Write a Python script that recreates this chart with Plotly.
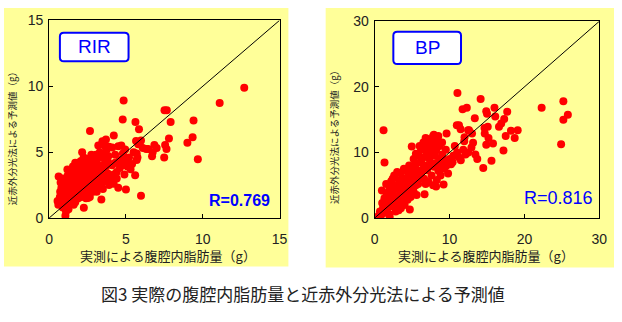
import plotly.graph_objects as go

# ---------------- data ----------------
rir_x = [0.55, 0.62, 0.72, 0.89, 0.89, 0.70, 0.80, 0.95, 0.60, 0.85, 0.75, 1.00, 0.90,
         1.06, 1.10, 1.19, 1.26, 1.20, 1.10, 1.30, 1.15, 1.40, 1.35, 1.45, 1.25, 1.50, 1.40, 1.20, 1.48, 1.05,
         1.55, 1.60, 1.65, 1.70, 1.75, 1.80, 1.85, 1.90, 1.95, 1.60, 1.70, 1.80, 1.90, 1.55, 1.65, 1.75, 1.85, 2.00, 1.95, 1.60, 1.70,
         2.05, 2.10, 2.15, 2.10, 2.20, 2.25, 2.30, 2.26, 2.35, 2.40, 2.45, 2.53, 2.20, 2.30, 2.40, 2.10, 2.35, 2.45, 2.05, 2.50, 2.15, 2.25, 2.40,
         2.55, 2.60, 2.66, 2.65, 2.70, 2.75, 2.80, 2.85, 2.90, 2.95, 2.60, 2.70, 2.80, 2.90, 3.00, 2.55, 2.75, 2.95, 2.65,
         3.05, 3.10, 3.15, 3.20, 3.25, 3.30, 3.35, 3.40, 3.45, 3.47, 3.50, 3.10, 3.20, 3.30, 3.40, 3.05, 3.45, 3.50,
         3.55, 3.60, 3.70, 3.65, 3.70, 3.75, 3.80, 3.85, 3.90, 3.95, 4.00, 3.60, 3.80, 3.90, 3.55,
         4.11, 4.21, 4.10, 4.20, 4.30, 4.40, 4.50, 4.50, 4.60, 4.70, 4.75, 4.85, 4.90, 4.95, 4.30, 4.40, 4.60, 4.80, 5.00, 4.20,
         5.00, 4.79, 4.85, 5.10, 5.20, 5.30, 5.40,
         5.62, 5.66, 5.60, 5.70, 5.75, 5.70, 5.85, 5.98, 6.10, 6.32, 5.98, 5.50, 5.80, 5.89,
         6.45, 6.70, 6.74, 6.85, 7.00, 7.55, 7.64, 7.49, 7.80, 7.51, 7.66, 7.91, 9.00, 9.34, 9.40, 9.68, 11.10, 12.70]
rir_y = [1.30, 3.15, 2.00, 2.64, 0.79, 1.60, 2.30, 1.90, 1.00, 3.00, 2.70, 1.20, 1.50,
         0.17, 0.50, 3.68, 0.67, 1.00, 2.20, 2.60, 2.90, 3.10, 1.80, 2.30, 1.50, 3.40, 1.30, 3.20, 2.00, 2.60,
         2.70, 3.00, 1.60, 3.60, 2.40, 3.30, 2.00, 3.80, 2.90, 2.20, 1.20, 4.00, 1.50, 3.90, 2.60, 3.10, 3.50, 2.50, 1.90, 1.00, 4.20,
         3.20, 2.80, 4.99, 3.90, 2.20, 3.50, 1.80, 0.77, 4.10, 2.90, 3.30, 1.51, 4.40, 2.60, 1.50, 1.60, 3.70, 2.40, 4.30, 3.90, 2.00, 4.60, 2.00,
         3.00, 2.30, 6.60, 3.60, 4.20, 2.80, 3.30, 2.00, 4.50, 3.80, 1.90, 2.50, 3.90, 2.60, 3.10, 4.50, 4.80, 2.20, 1.60,
         3.60, 4.20, 2.80, 5.50, 3.30, 2.40, 4.60, 1.40, 3.00, 5.83, 4.00, 2.00, 3.80, 5.00, 2.60, 4.80, 3.50, 2.20,
         3.20, 4.50, 5.95, 2.80, 3.90, 5.20, 3.40, 4.70, 2.50, 4.10, 3.00, 5.50, 4.40, 5.40, 4.90,
         5.35, 6.27, 4.00, 2.60, 4.80, 3.50, 5.45, 2.30, 4.40, 5.50, 4.00, 4.64, 3.30, 5.20, 4.20, 3.00, 3.80, 4.90, 4.30, 3.30,
         2.17, 7.47, 8.92, 3.90, 4.60, 3.70, 4.10,
         7.28, 5.84, 3.25, 4.40, 4.60, 4.90, 6.73, 5.88, 5.31, 5.24, 1.69, 5.00, 5.60, 5.60,
         5.23, 4.69, 5.00, 5.55, 5.31, 5.55, 5.24, 4.59, 6.03, 8.17, 8.17, 7.28, 5.72, 6.13, 7.40, 4.45, 8.72, 9.88]

bp_x = [0.5, 0.7, 0.9, 1.0, 1.1, 1.2, 1.3, 1.4, 1.5, 1.6, 1.7, 1.8, 1.9, 2.0, 1.18, 1.31, 1.53, 0.96, 2.0, 1.8, 1.2,
        2.1, 2.2, 2.3, 2.4, 2.5, 2.6, 2.7, 2.8, 2.9, 3.0, 3.1, 3.2, 3.3, 3.4, 3.5, 3.6, 3.7, 3.8, 3.9, 4.0,
        2.2, 2.8, 3.0, 3.3, 3.6, 3.9, 2.4, 2.6, 3.5, 3.8, 4.0,
        4.1, 4.2, 4.3, 4.4, 4.5, 4.6, 4.7, 4.8, 4.9, 5.0, 5.1, 5.2, 5.3, 5.4, 5.5, 5.6, 5.7, 5.8, 5.9, 6.0,
        4.95, 4.69, 4.4, 4.8, 5.2, 5.6, 4.3, 5.0, 5.5, 5.8, 4.6, 5.3,
        6.1, 6.2, 6.3, 6.4, 6.5, 6.6, 6.66, 6.7, 6.8, 6.9, 7.0, 7.1, 7.2, 7.3, 7.4, 7.5, 7.6, 7.7, 7.8, 7.9, 8.0,
        6.3, 6.8, 7.0, 7.2, 7.5, 6.0, 7.9, 6.5, 7.8, 8.0,
        8.1, 8.2, 8.3, 8.4, 8.5, 8.6, 8.7, 8.8, 8.9, 9.0, 9.2, 9.3, 9.4, 9.6, 9.5, 9.8, 10.0, 8.5, 9.0, 8.2, 9.6,
        10.2, 10.5, 10.7, 11.0, 11.2, 10.97, 11.05, 11.26, 11.48, 11.74, 12.30, 11.96, 11.83, 12.13, 12.48,
        13.14, 12.92, 13.45, 13.37, 14.15, 12.5, 13.7, 10.4, 11.5, 12.0, 12.6, 13.0,
        14.9, 15.0, 14.67, 15.2, 14.7, 15.1, 14.9, 15.8, 14.5, 15.6, 16.0, 16.1, 16.6, 16.9, 17.3,
        17.7, 17.5, 18.2, 19.1, 18.7, 17.2, 22.3, 25.2, 25.8, 25.2, 24.9]
bp_y = [0.3, 1.0, 0.5, 2.3, 1.5, 0.8, 3.0, 2.0, 1.0, 3.8, 2.6, 1.6, 0.6, 4.5, 13.4, 8.47, 5.18, 4.2, 0.2, 3.3, 1.9,
        2.8, 5.6, 3.6, 1.8, 4.2, 6.5, 2.5, 5.0, 3.2, 7.0, 4.6, 1.2, 5.8, 3.9, 6.8, 2.3, 5.2, 4.3, 7.5, 6.0,
        3.5, 1.0, 2.0, 3.0, 4.0, 5.0, 6.0, 4.8, 1.5, 3.0, 2.0,
        4.8, 7.3, 3.5, 6.2, 5.3, 8.0, 4.0, 6.8, 5.6, 7.5, 4.4, 9.0, 6.2, 7.0, 5.0, 8.3, 6.5, 7.2, 9.5, 6.0,
        10.9, 1.31, 2.8, 3.2, 4.0, 3.5, 5.8, 6.3, 9.8, 5.2, 7.0, 8.0,
        8.5, 10.5, 7.0, 9.2, 11.5, 6.0, 3.63, 8.0, 12.2, 9.8, 7.3, 10.8, 5.5, 9.0, 11.8, 8.2, 6.5, 10.0, 12.5, 7.8, 9.5,
        9.0, 5.2, 11.0, 12.0, 10.5, 11.0, 12.7, 7.5, 5.0, 11.2,
        8.3, 10.3, 5.8, 12.0, 7.2, 9.0, 11.0, 6.5, 8.0, 9.7, 5.1, 7.5, 8.8, 12.9, 10.4, 6.8, 9.0, 12.5, 11.5, 4.8, 8.0,
        8.2, 9.5, 11.0, 10.0, 9.3, 14.16, 19.06, 14.13, 13.55, 16.6, 16.8, 11.71, 10.4, 9.68, 13.4,
        11.47, 10.74, 9.68, 15.2, 18.14, 10.0, 9.0, 8.5, 8.8, 12.3, 13.4, 12.9,
        16.3, 15.9, 13.74, 12.19, 12.9, 13.9, 11.16, 11.35, 7.63, 8.74, 16.8, 15.5, 13.9, 14.4, 15.1,
        16.2, 12.5, 13.3, 13.4, 12.2, 10.3, 16.8, 17.8, 15.75, 15.0, 11.26]

rir_range = [0, 15]
bp_range = [0, 30]
rir_ticks = [0, 5, 10, 15]
bp_ticks = [0, 10, 20, 30]
panel_labels = ["RIR", "BP"]
r_labels = ["R=0.769", "R=0.816"]
x_title = "実測による腹腔内脂肪量（g）"
y_title = "近赤外分光法による予測値（g）"
caption = "図3 実際の腹腔内脂肪量と近赤外分光法による予測値"

# ---------------- figure ----------------
W, H = 622, 322


def px(x):
    return x / W


def py(y):
    return 1 - y / H


def rounded(x0, y0, x1, y1, r):
    pts = [
        ("M", x0 + r, y0), ("L", x1 - r, y0), ("Q", x1, y0, x1, y0 + r),
        ("L", x1, y1 - r), ("Q", x1, y1, x1 - r, y1), ("L", x0 + r, y1),
        ("Q", x0, y1, x0, y1 - r), ("L", x0, y0 + r), ("Q", x0, y0, x0 + r, y0),
    ]
    s = ""
    for p in pts:
        if p[0] == "Q":
            s += f"Q{px(p[1]):.5f},{py(p[2]):.5f} {px(p[3]):.5f},{py(p[4]):.5f} "
        else:
            s += f"{p[0]}{px(p[1]):.5f},{py(p[2]):.5f} "
    return s + "Z"


fig = go.Figure()
red = "#FF0000"
fig.add_trace(go.Scatter(x=rir_x, y=rir_y, mode="markers", xaxis="x", yaxis="y",
                         marker=dict(color=red, size=8, line=dict(width=0)), showlegend=False))
fig.add_trace(go.Scatter(x=rir_range, y=rir_range, mode="lines", xaxis="x", yaxis="y",
                         line=dict(color="black", width=1), showlegend=False))
fig.add_trace(go.Scatter(x=bp_x, y=bp_y, mode="markers", xaxis="x2", yaxis="y2",
                         marker=dict(color=red, size=8, line=dict(width=0)), showlegend=False))
fig.add_trace(go.Scatter(x=bp_range, y=bp_range, mode="lines", xaxis="x2", yaxis="y2",
                         line=dict(color="black", width=1), showlegend=False))

tickfont = dict(family="Liberation Sans, Arial", size=14, color="#222222")
axis_common = dict(showgrid=False, zeroline=False, showline=True, linecolor="black", linewidth=1,
                   mirror=True, ticks="inside", ticklen=4, tickcolor="black", tickfont=tickfont)

fig.update_layout(
    width=W, height=H, margin=dict(l=0, r=0, t=0, b=0),
    paper_bgcolor="white", plot_bgcolor="white",
    xaxis=dict(domain=[px(46), px(281)], range=rir_range, tickvals=rir_ticks, anchor="y",
               ticklabelstandoff=8, **axis_common),
    yaxis=dict(domain=[py(221), py(13)], range=rir_range, tickvals=rir_ticks, anchor="x",
               ticklabelstandoff=2, **axis_common),
    xaxis2=dict(domain=[px(378), px(607)], range=bp_range, tickvals=bp_ticks, anchor="y2",
                ticklabelstandoff=8, **axis_common),
    yaxis2=dict(domain=[py(221), py(14)], range=bp_range, tickvals=bp_ticks, anchor="x2",
                ticklabelstandoff=2, **axis_common),
)

yellow = "#FFFF99"
shapes = [
    dict(type="rect", xref="paper", yref="paper", x0=px(0), x1=px(290), y0=py(272), y1=py(0),
         fillcolor=yellow, line=dict(width=0), layer="below"),
    dict(type="rect", xref="paper", yref="paper", x0=px(328), x1=px(622), y0=py(273), y1=py(0),
         fillcolor=yellow, line=dict(width=0), layer="below"),
    dict(type="path", xref="paper", yref="paper", path=rounded(57, 26, 127, 56, 4),
         fillcolor="white", line=dict(color="#0000FF", width=2), layer="above"),
    dict(type="path", xref="paper", yref="paper", path=rounded(397, 25, 466, 59, 4),
         fillcolor="white", line=dict(color="#0000FF", width=2), layer="above"),
]
fig.update_layout(shapes=shapes)

cjk = "Noto Sans CJK JP"
base = dict(showarrow=False, xref="paper", yref="paper", xanchor="center", yanchor="middle")
ann = []
ann.append(dict(x=px(92), y=py(41), text=panel_labels[0],
                font=dict(family="Liberation Sans, Arial", size=19, color="#0000FF"), **base))
ann.append(dict(x=px(432), y=py(42), text=panel_labels[1],
                font=dict(family="Liberation Sans, Arial", size=19, color="#0000FF"), **base))
ann.append(dict(x=px(240), y=py(203), text="<b>" + r_labels[0] + "</b>",
                font=dict(family="Liberation Sans, Arial", size=16, color="#0000FF"), **base))
ann.append(dict(x=px(565), y=py(200), text=r_labels[1],
                font=dict(family="Liberation Sans, Arial", size=18, color="#0000FF"), **base))
for cx in (167, 491):
    ann.append(dict(x=px(cx), y=py(260), text=x_title,
                    font=dict(family=cjk, size=13, color="#222222"), **base))
for cx, cy in ((8, 135), (337, 133)):
    ann.append(dict(x=px(cx), y=py(cy), text=y_title, textangle=-90,
                    font=dict(family=cjk, size=9.5, color="#222222"), **base))
ann.append(dict(x=px(305), y=py(300), text=caption,
                font=dict(family=cjk, size=17, color="#222222"), **base))
fig.update_layout(annotations=ann)

fig.write_html("out.html")
